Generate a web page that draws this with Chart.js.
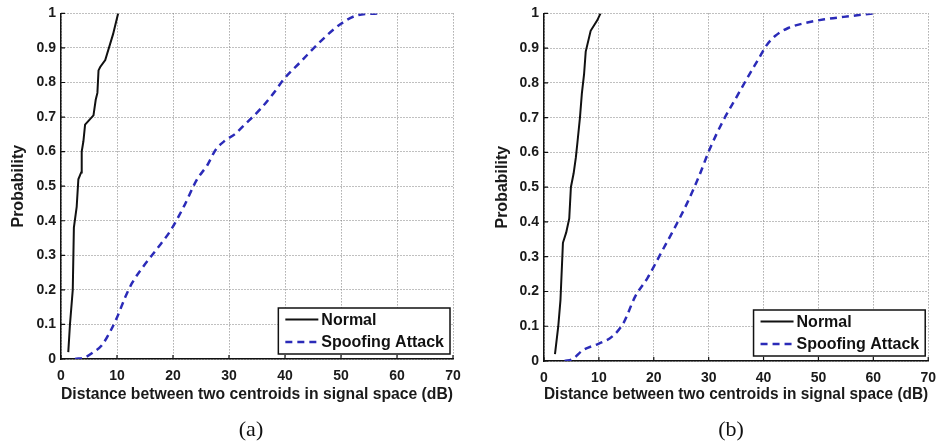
<!DOCTYPE html>
<html>
<head>
<meta charset="utf-8">
<script src="https://cdn.jsdelivr.net/npm/chart.js@4"></script>
<style>
  body { margin: 0; background: #fff; width: 945px; height: 446px; position: relative; overflow: hidden; }
  .box { position: absolute; top: 0; width: 470px; height: 446px; }
  .cap { position: absolute; top: 416px; font-family: "Liberation Serif", "DejaVu Serif", serif; font-size: 22px; color: #111; transform: translateX(-50%); }
</style>
</head>
<body>
<div class="box" style="left:0"><canvas id="chart-a"></canvas></div>
<div class="box" style="left:475px"><canvas id="chart-b"></canvas></div>
<div class="cap" style="left:251px">(a)</div>
<div class="cap" style="left:731px">(b)</div>
<script>
// ticks
const xTicks = [0, 10, 20, 30, 40, 50, 60, 70]
const yTicks = [0, 0.1, 0.2, 0.3, 0.4, 0.5, 0.6, 0.7, 0.8, 0.9, 1]

// (a)
const normalAX = [1.3, 1.6, 2.1, 2.3, 2.8, 3.1, 3.6, 3.7, 4.0, 4.3, 5.8, 6.2, 6.5, 6.7, 7.0, 7.9, 9.3, 10.2]
const normalAY = [0.02, 0.1, 0.2, 0.38, 0.44, 0.52, 0.54, 0.6, 0.63, 0.678, 0.705, 0.75, 0.77, 0.835, 0.845, 0.865, 0.94, 1.0]
const spoofAX = [2.5, 4.3, 5.8, 7.3, 8.8, 10, 11.5, 12.7, 14.8, 17.2, 19.5, 21.9, 24.3, 26.1, 27.6, 29.3, 31, 32.6, 35.7, 38, 39.8, 42.8, 46.4, 50, 53, 56.5]
const spoofAY = [0, 0.005, 0.02, 0.04, 0.08, 0.12, 0.18, 0.22, 0.27, 0.32, 0.37, 0.44, 0.52, 0.56, 0.605, 0.632, 0.65, 0.675, 0.725, 0.77, 0.81, 0.86, 0.92, 0.97, 0.995, 1]

// (b)
const normalBX = [2.0, 2.6, 3.0, 3.45, 4.05, 4.6, 4.9, 5.4, 5.8, 6.1, 6.55, 6.9, 7.3, 7.6, 8.5, 9.7, 10.3]
const normalBY = [0.02, 0.10, 0.175, 0.34, 0.37, 0.41, 0.5, 0.54, 0.585, 0.63, 0.70, 0.77, 0.825, 0.89, 0.95, 0.98, 1.0]
const spoofBX = [3.75, 5.2, 7.0, 10, 12.4, 14.5, 16.6, 18.9, 21.3, 23.7, 26.1, 28.2, 30.2, 32.6, 35, 37.4, 39.2, 40.4, 42.1, 44.5, 47.5, 51.1, 54.6, 60]
const spoofBY = [0, 0.005, 0.03, 0.05, 0.07, 0.11, 0.185, 0.24, 0.31, 0.38, 0.455, 0.53, 0.61, 0.69, 0.757, 0.824, 0.872, 0.905, 0.935, 0.958, 0.972, 0.983, 0.99, 1.0]

const seriesNames = ['Normal', 'Spoofing Attack']

const FONT = "'Liberation Sans', Arial, sans-serif"
const BLUE = '#2b2bb8'

const toPoints = (xs, ys) => xs.map((x, i) => ({x: x, y: ys[i]}))

// small inward ticks like matlab
const innerTicks = {
    id: 'innerTicks',
    afterDraw(chart) {
        const {ctx, chartArea, scales} = chart
        ctx.save()
        ctx.strokeStyle = '#111'
        ctx.lineWidth = 1.2
        ctx.beginPath()
        xTicks.forEach(v => {
            const px = scales.x.getPixelForValue(v)
            ctx.moveTo(px, chartArea.bottom)
            ctx.lineTo(px, chartArea.bottom - 4)
        })
        yTicks.forEach(v => {
            const py = scales.y.getPixelForValue(v)
            ctx.moveTo(chartArea.left, py)
            ctx.lineTo(chartArea.left + 4, py)
        })
        ctx.stroke()
        ctx.restore()
    }
}

// legend drawn inside the plot, bottom right
const boxLegend = {
    id: 'boxLegend',
    afterDatasetsDraw(chart) {
        const {ctx, chartArea} = chart
        const sets = chart.data.datasets
        ctx.save()
        ctx.font = 'bold 16px ' + FONT
        const textW = Math.max(...sets.map(d => ctx.measureText(d.label).width))
        const w = 7 + 33 + 3 + textW + 6
        const h = 46
        const x0 = chartArea.right - 3 - w
        const y0 = chartArea.bottom - 5 - h
        ctx.fillStyle = '#fff'
        ctx.fillRect(x0, y0, w, h)
        ctx.strokeStyle = '#111'
        ctx.lineWidth = 1.5
        ctx.strokeRect(x0, y0, w, h)
        sets.forEach((d, i) => {
            const cy = y0 + 11.5 + i * 22.5
            ctx.beginPath()
            ctx.setLineDash(d.borderDash || [])
            ctx.strokeStyle = d.borderColor
            ctx.lineWidth = d.borderWidth
            ctx.moveTo(x0 + 7, cy)
            ctx.lineTo(x0 + 40, cy)
            ctx.stroke()
            ctx.setLineDash([])
            ctx.fillStyle = '#111'
            ctx.textBaseline = 'middle'
            ctx.fillText(d.label, x0 + 43, cy + 1)
        })
        ctx.restore()
    }
}

function makeChart(id, nX, nY, sX, sY, lay) {
    return new Chart(document.getElementById(id), {
        type: 'line',
        data: {
            datasets: [
                {
                    label: seriesNames[0],
                    data: toPoints(nX, nY),
                    borderColor: '#111',
                    borderWidth: 2,
                    pointRadius: 0,
                    fill: false
                },
                {
                    label: seriesNames[1],
                    data: toPoints(sX, sY),
                    borderColor: BLUE,
                    borderWidth: 2.5,
                    borderDash: [7, 5],
                    pointRadius: 0,
                    cubicInterpolationMode: 'monotone',
                    fill: false
                }
            ]
        },
        options: {
            responsive: true,
            maintainAspectRatio: false,
            animation: false,
            layout: {padding: {top: lay.top, right: lay.right, left: 0, bottom: 0}},
            plugins: {legend: {display: false}, tooltip: {enabled: false}},
            scales: {
                x: {
                    type: 'linear',
                    min: 0, max: 70,
                    afterBuildTicks: s => { s.ticks = xTicks.map(v => ({value: v})) },
                    afterFit: s => { s.height = lay.xH },
                    grid: {color: '#808080', lineWidth: 1, drawTicks: false},
                    border: {color: '#111', width: 1.5, dash: [1, 2]},
                    ticks: {color: '#1a1a1a', padding: 9, font: {family: FONT, size: 14, weight: 'bold'}},
                    title: {
                        display: true,
                        text: 'Distance between two centroids in signal space (dB)',
                        color: '#1a1a1a',
                        font: {family: FONT, size: 16, weight: 'bold', lineHeight: 1},
                        padding: {bottom: 43, top: 0}
                    }
                },
                y: {
                    min: 0, max: 1,
                    afterBuildTicks: s => { s.ticks = yTicks.map(v => ({value: v})) },
                    afterFit: s => { s.width = lay.yW },
                    grid: {color: '#808080', lineWidth: 1, drawTicks: false},
                    border: {color: '#111', width: 1.5, dash: [1, 2]},
                    ticks: {
                        color: '#1a1a1a', padding: 5,
                        font: {family: FONT, size: 14, weight: 'bold'},
                        callback: v => String(Number(v.toFixed(1)))
                    },
                    title: {
                        display: true,
                        text: 'Probability',
                        color: '#1a1a1a',
                        font: {family: FONT, size: 16, weight: 'bold', lineHeight: 1},
                        padding: {top: lay.yTitle, bottom: 0}
                    }
                }
            }
        },
        plugins: [boxLegend, innerTicks]
    })
}

makeChart('chart-a', normalAX, normalAY, spoofAX, spoofAY, {top: 11, right: 17, xH: 87, yW: 61, yTitle: 11})
makeChart('chart-b', normalBX, normalBY, spoofBX, spoofBY, {top: 12, right: 9, xH: 85, yW: 69, yTitle: 20})
</script>
</body>
</html>
